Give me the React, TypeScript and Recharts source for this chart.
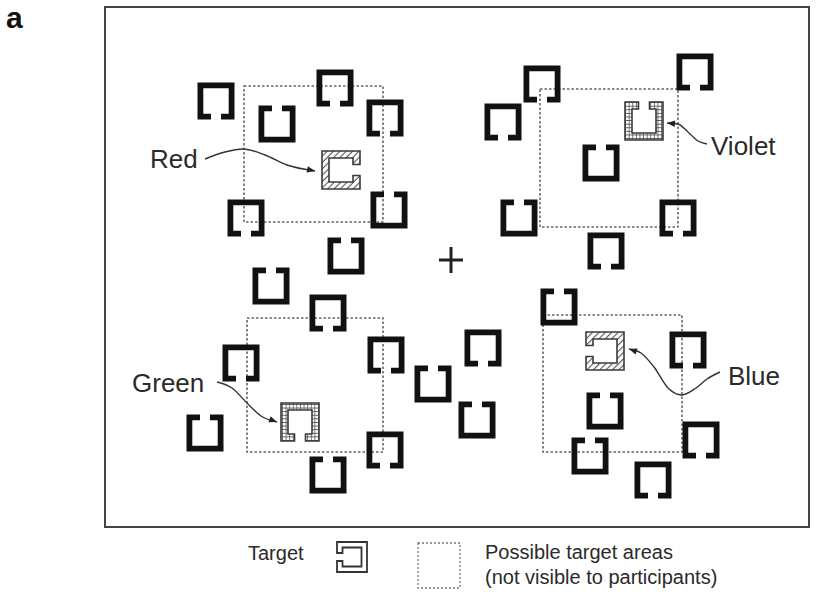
import React from 'react';
import { ComposedChart, XAxis, YAxis, Scatter, Line, ReferenceArea } from 'recharts';

// ---- canvas (data units = picture units, origin top-left) ----
const xDomain = [0, 817];
const yDomain = [0, 606];

// stimulus frame
const frame = { x1: 105, x2: 809, y1: 7, y2: 527 };

// distractors: centre and side of the opening
const topLeftDistractors = [
  { x: 216, y: 101, gap: 'down' },
  { x: 277, y: 124, gap: 'up' },
  { x: 335, y: 88, gap: 'down' },
  { x: 385, y: 118, gap: 'down' },
  { x: 246, y: 218, gap: 'down' },
  { x: 389, y: 210, gap: 'up' },
  { x: 346, y: 256, gap: 'up' },
];
const topRightDistractors = [
  { x: 542, y: 84, gap: 'down' },
  { x: 503, y: 122, gap: 'down' },
  { x: 695, y: 72, gap: 'down' },
  { x: 601, y: 163, gap: 'up' },
  { x: 519, y: 218, gap: 'up' },
  { x: 678, y: 218, gap: 'down' },
  { x: 606, y: 251, gap: 'down' },
];
const bottomLeftDistractors = [
  { x: 271, y: 286, gap: 'up' },
  { x: 328, y: 313, gap: 'down' },
  { x: 241, y: 363, gap: 'down' },
  { x: 386, y: 355, gap: 'down' },
  { x: 433, y: 384, gap: 'up' },
  { x: 205, y: 433, gap: 'up' },
  { x: 385, y: 450, gap: 'down' },
  { x: 328, y: 475, gap: 'up' },
];
const middleDistractors = [
  { x: 483, y: 348, gap: 'down' },
  { x: 477, y: 420, gap: 'up' },
];
const bottomRightDistractors = [
  { x: 559, y: 307, gap: 'up' },
  { x: 688, y: 350, gap: 'down' },
  { x: 605, y: 411, gap: 'up' },
  { x: 701, y: 440, gap: 'down' },
  { x: 590, y: 456, gap: 'up' },
  { x: 653, y: 480, gap: 'down' },
];

// targets
const targets = [
  { x: 341, y: 170, gap: 'right', hatch: 'diag', name: 'Red' },
  { x: 644, y: 121, gap: 'up', hatch: 'grid', name: 'Violet' },
  { x: 300, y: 422, gap: 'down', hatch: 'grid', name: 'Green' },
  { x: 605, y: 351, gap: 'left', hatch: 'diag', name: 'Blue' },
];

// possible target areas
const targetAreas = [
  { x1: 244, x2: 383, y1: 86, y2: 222 },
  { x1: 540, x2: 678, y1: 89, y2: 227 },
  { x1: 247, x2: 383, y1: 318, y2: 452 },
  { x1: 543, x2: 682, y1: 315, y2: 452 },
];

// fixation cross
const fixation = [{ x: 451, y: 260 }];

// label texts (baseline positions)
const targetLabels = [
  { x: 150, y: 168, text: 'Red' },
  { x: 711, y: 155, text: 'Violet' },
  { x: 132, y: 392, text: 'Green' },
  { x: 728, y: 385, text: 'Blue' },
];

// arrow paths (ordered by x); head marks arrow tip
const redArrow = [
  { x: 205, y: 159 }, { x: 225, y: 152 }, { x: 243, y: 149 }, { x: 265, y: 155 },
  { x: 287, y: 165 }, { x: 315, y: 171, head: true },
];
const violetArrow = [
  { x: 667, y: 123, head: true }, { x: 678, y: 124 }, { x: 688, y: 132 },
  { x: 698, y: 141 }, { x: 707, y: 144 },
];
const greenArrow = [
  { x: 217, y: 382 }, { x: 232, y: 388 }, { x: 247, y: 403 }, { x: 261, y: 416 },
  { x: 277, y: 422, head: true },
];
const blueArrow = [
  { x: 629, y: 349, head: true }, { x: 641, y: 353 }, { x: 654, y: 367 }, { x: 668, y: 388 },
  { x: 682, y: 395 }, { x: 696, y: 388 }, { x: 707, y: 379 }, { x: 720, y: 372 },
];
const arrows = [redArrow, violetArrow, greenArrow, blueArrow];

// legend
const legendTarget = [{ x: 352, y: 557, gap: 'left' }];
const legendArea = { x1: 418, x2: 460, y1: 543, y2: 588 };
const legendTexts = [
  { x: 248, y: 560, text: 'Target' },
  { x: 485, y: 559, text: 'Possible target areas' },
  { x: 485, y: 584, text: '(not visible to participants)' },
];
const panelLetter = [{ x: 6, y: 28, text: 'a' }];

const allDistractors = [
  ...topLeftDistractors,
  ...topRightDistractors,
  ...bottomLeftDistractors,
  ...middleDistractors,
  ...bottomRightDistractors,
];

const FONT = '"Liberation Sans", Arial, Helvetica, sans-serif';
const INK = '#111';
const rotation: Record<string, number> = { down: 0, left: 90, up: 180, right: 270 };

function cPath(s: number, t: number, g: number) {
  const h = g / 2;
  return `M ${-h} ${s} L ${-s} ${s} L ${-s} ${-s} L ${s} ${-s} L ${s} ${s} L ${h} ${s} L ${h} ${s - t} L ${s - t} ${s - t} L ${s - t} ${-s + t} L ${-s + t} ${-s + t} L ${-s + t} ${s - t} L ${-h} ${s - t} Z`;
}

const DistractorShape = (props: any) => {
  const { cx, cy, payload } = props;
  return (
    <path
      d={cPath(18.5, 5.8, 10)}
      transform={`translate(${cx},${cy}) rotate(${rotation[payload.gap]})`}
      fill={INK}
    />
  );
};

const TargetShape = (props: any) => {
  const { cx, cy, payload } = props;
  const id = `hatch-${payload.name}`;
  return (
    <g>
      <defs>
        {payload.hatch === 'diag' ? (
          <pattern id={id} width="4.5" height="4.5" patternUnits="userSpaceOnUse" patternTransform="rotate(-45)">
            <rect width="4.5" height="4.5" fill="#fff" />
            <line x1="0" y1="0" x2="0" y2="4.5" stroke="#555" strokeWidth="2.2" />
          </pattern>
        ) : (
          <pattern id={id} width="3.6" height="3.6" patternUnits="userSpaceOnUse">
            <rect width="3.6" height="3.6" fill="#fff" />
            <path d="M0 0 H3.6 M0 0 V3.6" stroke="#555" strokeWidth="1.6" />
          </pattern>
        )}
      </defs>
      <path
        d={cPath(19, 7, 11)}
        transform={`translate(${cx},${cy}) rotate(${rotation[payload.gap]})`}
        fill={`url(#${id})`}
        stroke="#3a3a3a"
        strokeWidth={1.6}
      />
    </g>
  );
};

const LegendTargetShape = (props: any) => {
  const { cx, cy, payload } = props;
  return (
    <path
      d={cPath(15, 5.5, 8)}
      transform={`translate(${cx},${cy}) rotate(${rotation[payload.gap]})`}
      fill="#fff"
      stroke="#333"
      strokeWidth={1.8}
    />
  );
};

const CrossShape = (props: any) => {
  const { cx, cy } = props;
  return (
    <path d={`M ${cx - 12} ${cy} H ${cx + 12} M ${cx} ${cy - 13} V ${cy + 13}`} stroke="#222" strokeWidth={3} />
  );
};

const makeTextShape = (size: number, weight: string | number, color: string) => (props: any) => {
  const { cx, cy, payload } = props;
  return (
    <text x={cx} y={cy} fontSize={size} fontWeight={weight} fontFamily={FONT} fill={color} textAnchor="start">
      {payload.text}
    </text>
  );
};

const BigLabel = makeTextShape(26, 400, '#2a2a2a');
const SmallLabel = makeTextShape(20, 400, '#2a2a2a');
const LetterLabel = makeTextShape(30, 700, '#111');

const makeArrowDot = (data: any[]) => (props: any) => {
  const { cx, cy, index, points } = props;
  if (!data[index] || !data[index].head || cx == null) return <g key={`d${index}`} />;
  const nIdx = index === 0 ? 1 : index - 1;
  let ox: number, oy: number;
  if (points && points[nIdx]) {
    ox = points[nIdx].x;
    oy = points[nIdx].y;
  } else {
    ox = cx - (data[index].x - data[nIdx].x);
    oy = cy - (data[index].y - data[nIdx].y);
  }
  const ang = Math.atan2(cy - oy, cx - ox);
  const L = 8, Wd = 3.2;
  const bx = cx - L * Math.cos(ang), by = cy - L * Math.sin(ang);
  const px = -Math.sin(ang) * Wd, py = Math.cos(ang) * Wd;
  return (
    <path
      key={`d${index}`}
      d={`M ${cx} ${cy} L ${bx + px} ${by + py} L ${bx - px} ${by - py} Z`}
      fill="#222"
    />
  );
};

export default function App() {
  return (
    <div style={{ position: 'absolute', left: 0, top: 0, width: 817, height: 606, background: '#fff' }}>
      <ComposedChart width={817} height={606} margin={{ top: 0, right: 0, bottom: 0, left: 0 }}>
        <XAxis type="number" dataKey="x" domain={xDomain} hide allowDataOverflow />
        <YAxis type="number" dataKey="y" domain={yDomain} reversed hide allowDataOverflow />

        <ReferenceArea
          x1={frame.x1}
          x2={frame.x2}
          y1={frame.y1}
          y2={frame.y2}
          fill="none"
          stroke="#444"
          strokeWidth={2}
          ifOverflow="visible"
        />
        {targetAreas.map((a, i) => (
          <ReferenceArea
            key={`area${i}`}
            x1={a.x1}
            x2={a.x2}
            y1={a.y1}
            y2={a.y2}
            fill="none"
            stroke="#666"
            strokeWidth={1.6}
            strokeDasharray="2.5 2"
            ifOverflow="visible"
          />
        ))}
        <ReferenceArea
          x1={legendArea.x1}
          x2={legendArea.x2}
          y1={legendArea.y1}
          y2={legendArea.y2}
          fill="none"
          stroke="#777"
          strokeWidth={1.3}
          strokeDasharray="2 2"
          ifOverflow="visible"
        />

        <Scatter data={allDistractors} shape={DistractorShape} isAnimationActive={false} />
        <Scatter data={targets} shape={TargetShape} isAnimationActive={false} />
        <Scatter data={fixation} shape={CrossShape} isAnimationActive={false} />
        <Scatter data={legendTarget} shape={LegendTargetShape} isAnimationActive={false} />

        {arrows.map((arr, i) => (
          <Line
            key={`arrow${i}`}
            data={arr}
            dataKey="y"
            type="monotone"
            stroke="#333"
            strokeWidth={1.4}
            dot={makeArrowDot(arr)}
            activeDot={false}
            isAnimationActive={false}
            legendType="none"
          />
        ))}

        <Scatter data={targetLabels} shape={BigLabel} isAnimationActive={false} />
        <Scatter data={legendTexts} shape={SmallLabel} isAnimationActive={false} />
        <Scatter data={panelLetter} shape={LetterLabel} isAnimationActive={false} />
      </ComposedChart>
    </div>
  );
}
